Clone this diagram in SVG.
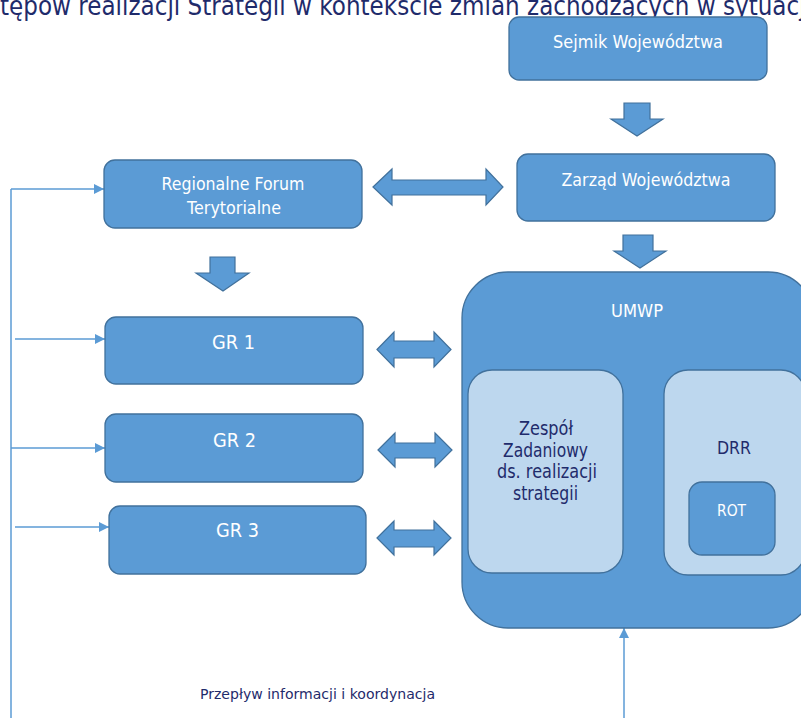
<svg xmlns="http://www.w3.org/2000/svg" width="801" height="718" viewBox="0 0 801 718">
<defs>
<style>
.box{fill:#5B9BD5;stroke:#41719C;stroke-width:1.3}
.lbox{fill:#BDD7EE;stroke:#41719C;stroke-width:1.3}
.barrow{fill:#5B9BD5;stroke:#41719C;stroke-width:1.2;stroke-linejoin:miter}
.larrow{fill:#C9DCF0;stroke:#41719C;stroke-width:1.2}
.wt{font-family:"DejaVu Sans",Verdana,sans-serif;fill:#FFFFFF;text-anchor:middle}
.dt{font-family:"DejaVu Sans",Verdana,sans-serif;fill:#1F2B6B;text-anchor:middle}
.conn{fill:none;stroke:#5B9BD5;stroke-width:1.5}
</style>
<marker id="ah" markerUnits="userSpaceOnUse" markerWidth="11" markerHeight="11" refX="10" refY="5" orient="auto">
<path d="M0,0 L10,5 L0,10 z" fill="#5B9BD5"/>
</marker>
</defs>
<rect width="801" height="718" fill="#FFFFFF"/>

<g id="title">
<text x="0" y="15" font-family="DejaVu Sans, Verdana, sans-serif" font-size="26" fill="#1F2B6B" textLength="812" lengthAdjust="spacingAndGlyphs">tępów realizacji Strategii w kontekście zmian zachodzących w sytuacji</text>
</g>

<g id="connectors">
<path class="conn" d="M11 189 V718"/>
<path class="conn" d="M11 189 H104" marker-end="url(#ah)"/>
<path class="conn" d="M15 339 H105" marker-end="url(#ah)"/>
<path class="conn" d="M11 448 H105" marker-end="url(#ah)"/>
<path class="conn" d="M15 527 H109" marker-end="url(#ah)"/>
<path class="conn" d="M624 718 V628" marker-end="url(#ah)"/>
<polygon class="barrow" points="624,103 650,103 650,119 663,119 637,136 611,119 624,119"/>
<polygon class="barrow" points="623,235 653,235 653,251 666,251 640,268 614,251 623,251"/>
<polygon class="barrow" points="210,257 235,257 235,273 249,273 223,291 196,273 210,273"/>
<polygon class="barrow" points="373,187 392,169 392,180 486,180 486,169 503,187 486,205 486,195 392,195 392,205"/>
<polygon class="barrow" points="377,349.5 394,332 394,341 434,341 434,332 451,349.5 434,367 434,358 394,358 394,367"/>
<polygon class="barrow" points="378,450 395,433 395,443 435,443 435,433 452,450 435,467 435,458 395,458 395,467"/>
<polygon class="barrow" points="377,538 394,521 394,530 434,530 434,521 451,538 434,555 434,547 394,547 394,555"/>
<polygon class="larrow" points="624,457.5 632,451.5 632,454.5 655,454.5 655,451.5 663,457.5 655,463.5 655,460.5 632,460.5 632,463.5"/>
</g>

<g id="sejmik">
<rect class="box" x="509" y="17" width="258" height="63" rx="10"/>
<text class="wt" x="638" y="48" font-size="17" textLength="170" lengthAdjust="spacingAndGlyphs">Sejmik Województwa</text>
</g>

<g id="zarzad">
<rect class="box" x="517" y="154" width="258" height="67" rx="11"/>
<text class="wt" x="646" y="186" font-size="17" textLength="169" lengthAdjust="spacingAndGlyphs">Zarząd Województwa</text>
</g>

<g id="rft">
<rect class="box" x="104" y="160" width="258" height="68" rx="11"/>
<text class="wt" x="233" y="190" font-size="18" textLength="143" lengthAdjust="spacingAndGlyphs">Regionalne Forum</text>
<text class="wt" x="234" y="214" font-size="18" textLength="94" lengthAdjust="spacingAndGlyphs">Terytorialne</text>
</g>

<g id="gr1">
<rect class="box" x="105" y="317" width="258" height="67" rx="11"/>
<text class="wt" x="233.5" y="349" font-size="20" textLength="43" lengthAdjust="spacingAndGlyphs">GR 1</text>
</g>

<g id="gr2">
<rect class="box" x="105" y="414" width="258" height="68" rx="11"/>
<text class="wt" x="234.5" y="447" font-size="20" textLength="43" lengthAdjust="spacingAndGlyphs">GR 2</text>
</g>

<g id="gr3">
<rect class="box" x="109" y="506" width="257" height="68" rx="11"/>
<text class="wt" x="237.5" y="537" font-size="20" textLength="43" lengthAdjust="spacingAndGlyphs">GR 3</text>
</g>

<g id="umwp">
<rect class="box" x="462" y="272" width="352" height="356" rx="46"/>
<text class="wt" x="637" y="317" font-size="18" textLength="52" lengthAdjust="spacingAndGlyphs">UMWP</text>
</g>

<g id="zespol">
<rect class="lbox" x="468" y="370" width="155" height="203" rx="24"/>
<text class="dt" x="546" y="435" font-size="19" textLength="54" lengthAdjust="spacingAndGlyphs">Zespół</text>
<text class="dt" x="545.5" y="457" font-size="19" textLength="85" lengthAdjust="spacingAndGlyphs">Zadaniowy</text>
<text class="dt" x="547" y="478" font-size="19" textLength="100" lengthAdjust="spacingAndGlyphs">ds. realizacji</text>
<text class="dt" x="545.5" y="500" font-size="19" textLength="65" lengthAdjust="spacingAndGlyphs">strategii</text>
</g>

<g id="drr">
<rect class="lbox" x="664" y="370" width="141" height="205" rx="24"/>
<text class="dt" x="734" y="454" font-size="18" textLength="34" lengthAdjust="spacingAndGlyphs">DRR</text>
</g>

<g id="rot">
<rect class="box" x="689" y="482" width="86" height="73" rx="13"/>
<text class="wt" x="731.5" y="516" font-size="16" textLength="29" lengthAdjust="spacingAndGlyphs">ROT</text>
</g>

<g id="flow-label">
<text class="dt" x="317.5" y="699" font-size="14" textLength="235" lengthAdjust="spacingAndGlyphs">Przepływ informacji i koordynacja</text>
</g>
</svg>
